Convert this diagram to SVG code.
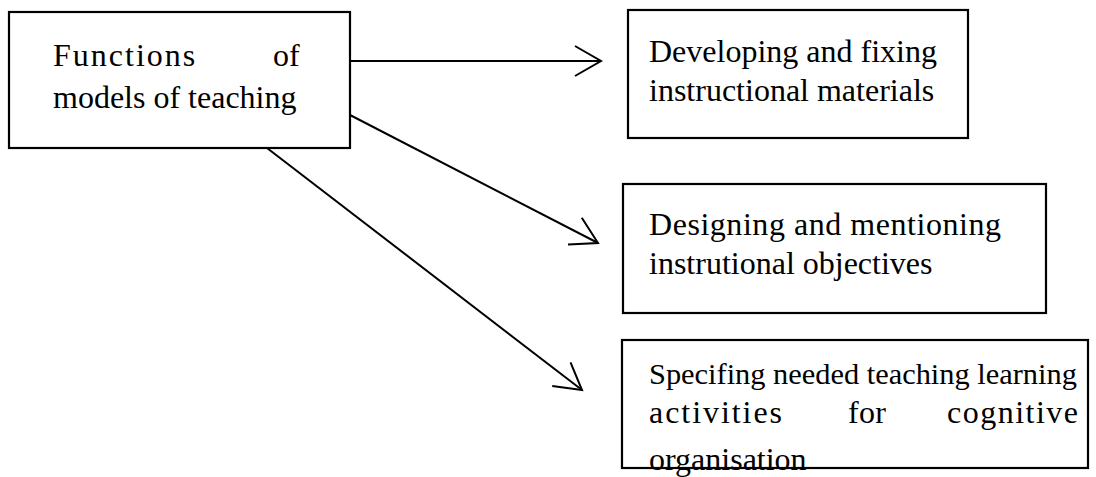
<svg xmlns="http://www.w3.org/2000/svg" width="1096" height="477" viewBox="0 0 1096 477">
<style>
.box{fill:none;stroke:#000;stroke-width:2.2}
.t{font-family:"Liberation Serif","Times New Roman",serif;font-size:32px;fill:#000}
.c{fill:none;stroke:#000;stroke-width:2}
</style>
<defs>
<marker id="open" markerUnits="userSpaceOnUse" viewBox="-30 -20 34 40" refX="0" refY="0" markerWidth="34" markerHeight="40" orient="auto">
<path d="M-26,-15 L0,0 L-26,15" fill="none" stroke="#000" stroke-width="2"/>
</marker>
</defs>
<rect width="1096" height="477" fill="#fff"/>
<g id="connectors">
<line class="c" x1="350" y1="61" x2="601" y2="61" marker-end="url(#open)"/>
<line class="c" x1="350" y1="115" x2="598" y2="243" marker-end="url(#open)"/>
<line class="c" x1="267" y1="148" x2="582" y2="390" marker-end="url(#open)"/>
</g>
<g id="n1">
<rect class="box" x="9" y="12" width="341" height="136"/>
<text class="t" x="53" y="66" letter-spacing="2">Functions</text>
<text class="t" x="273" y="66">of</text>
<text class="t" x="53" y="108">models of teaching</text>
</g>
<g id="n2">
<rect class="box" x="628" y="10" width="340" height="128"/>
<text class="t" x="649" y="62">Developing and fixing</text>
<text class="t" x="649" y="101">instructional materials</text>
</g>
<g id="n3">
<rect class="box" x="623" y="184" width="423" height="129"/>
<text class="t" x="649" y="235" textLength="352" lengthAdjust="spacing">Designing and mentioning</text>
<text class="t" x="649" y="274">instrutional objectives</text>
</g>
<g id="n4">
<rect class="box" x="622" y="340" width="466" height="128"/>
<text class="t" x="649" y="384" style="font-size:30.4px">Specifing needed teaching learning</text>
<text class="t" x="649" y="423" textLength="133" lengthAdjust="spacing">activities</text>
<text class="t" x="848" y="423" textLength="38" lengthAdjust="spacing">for</text>
<text class="t" x="947" y="423" textLength="131" lengthAdjust="spacing">cognitive</text>
<text class="t" x="649" y="470">organisation</text>
</g>
</svg>
